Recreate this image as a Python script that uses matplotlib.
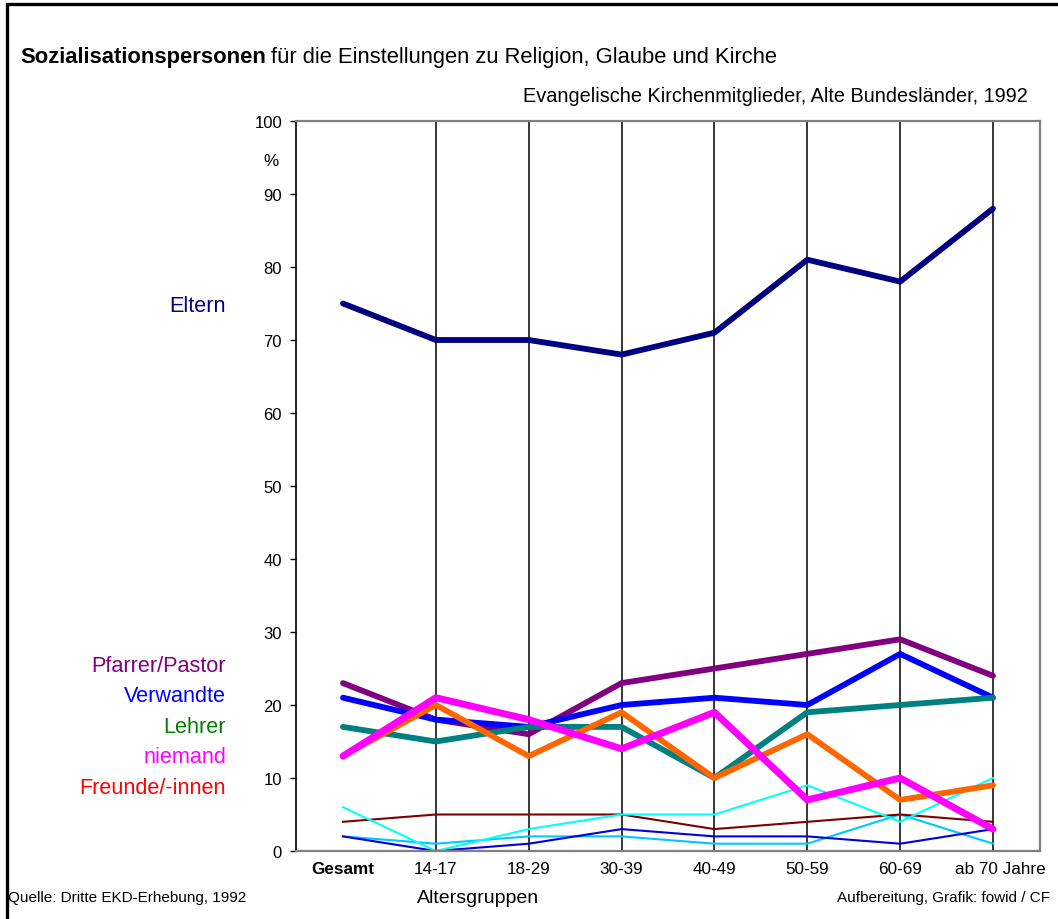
import matplotlib
matplotlib.use("Agg")
import matplotlib.pyplot as plt
from matplotlib.patches import Rectangle

categories = ["Gesamt", "14-17", "18-29", "30-39", "40-49", "50-59", "60-69", "ab 70 Jahre"]

eltern = [75, 70, 70, 68, 71, 81, 78, 88]
pfarrer = [23, 18, 16, 23, 25, 27, 29, 24]
verwandte = [21, 18, 17, 20, 21, 20, 27, 21]
lehrer = [17, 15, 17, 17, 10, 19, 20, 21]
freunde = [13, 20, 13, 19, 10, 16, 7, 9]
niemand = [13, 21, 18, 14, 19, 7, 10, 3]
thin_cyan = [6, 0, 3, 5, 5, 9, 4, 10]
thin_maroon = [4, 5, 5, 5, 3, 4, 5, 4]
thin_sky = [2, 1, 2, 2, 1, 1, 5, 1]
thin_blue = [2, 0, 1, 3, 2, 2, 1, 3]

label_names = ["Pfarrer/Pastor", "Verwandte", "Lehrer", "niemand", "Freunde/-innen"]
label_colors = ["#800080", "#0000FF", "#008000", "#FF00FF", "#FF0000"]

plt.rcParams['font.family'] = ['Liberation Sans', 'DejaVu Sans']

W, H = 1058, 920
fig = plt.figure(figsize=(W / 100, H / 100), dpi=100)

def fx(px):
    return px / W

def fy(py):
    return 1 - py / H

# outer frame
fig.patches.append(Rectangle((fx(7), fy(1000)), fx(1100), fy(5) - fy(1000),
                             transform=fig.transFigure, fill=False,
                             edgecolor="black", linewidth=2.4, zorder=0))

ax = fig.add_axes([fx(296), fy(852), fx(1040) - fx(296), fy(122) - fy(852)])
x = list(range(len(categories)))

for xi in x[1:]:
    ax.axvline(xi, color="black", linewidth=1.1, zorder=1)

lw_thin = 1.5
ax.plot(x, thin_sky, color="#00C8FF", linewidth=lw_thin, zorder=2)
ax.plot(x, thin_blue, color="#0000E0", linewidth=lw_thin, zorder=2)
ax.plot(x, thin_maroon, color="#800000", linewidth=lw_thin, zorder=2)
ax.plot(x, thin_cyan, color="#00FFFF", linewidth=lw_thin, zorder=2)

lw = 4.2
ax.plot(x, eltern, color="#000080", linewidth=lw, zorder=3, solid_capstyle="round")
ax.plot(x, pfarrer, color="#800080", linewidth=lw, zorder=3, solid_capstyle="round")
ax.plot(x, verwandte, color="#0000FF", linewidth=lw, zorder=3, solid_capstyle="round")
ax.plot(x, lehrer, color="#008080", linewidth=lw, zorder=3, solid_capstyle="round")
ax.plot(x, freunde, color="#FF6600", linewidth=lw, zorder=3, solid_capstyle="round")
ax.plot(x, niemand, color="#FF00FF", linewidth=5.0, zorder=4, solid_capstyle="round")

ax.set_xlim(-0.506, 7.506)
ax.set_ylim(0, 100)
ax.set_yticks(range(0, 101, 10))
ax.tick_params(axis="y", labelsize=12, length=4.5, width=1, direction="out", pad=5.5)
ax.set_xticks(x)
ax.set_xticklabels([])
ax.tick_params(axis="x", length=0)

for s in ["top", "right", "bottom"]:
    ax.spines[s].set_color("#808080")
    ax.spines[s].set_linewidth(1.6)
ax.spines["left"].set_color("black")
ax.spines["left"].set_linewidth(1.2)

# x labels
for i, c in enumerate(categories):
    weight = "bold" if i == 0 else "normal"
    tx = ax.text(i, -1.4, c, ha="center", va="top", fontsize=12.3,
                 fontweight=weight, transform=ax.transData)
    if i == len(categories) - 1:
        tx.set_x(i + 0.08)

fig.text(fx(271), fy(161), "%", ha="center", va="center", fontsize=12.3)

# title
t1 = fig.text(fx(20), fy(57), "Sozialisationspersonen", ha="left", va="center",
              fontsize=15.8, fontweight="bold")
fig.canvas.draw()
bb = t1.get_window_extent()
fig.text(bb.x1 / W + fx(5), fy(57), "für die Einstellungen zu Religion, Glaube und Kirche",
         ha="left", va="center", fontsize=15.8)
fig.text(fx(1028), fy(96), "Evangelische Kirchenmitglieder, Alte Bundesländer, 1992",
         ha="right", va="center", fontsize=14.3)

# series labels
fig.text(fx(226), fy(307), "Eltern", ha="right", va="center", fontsize=15.6, color="#000080")
ys = [667, 697, 728, 758, 789]
for name, col, yy in zip(label_names, label_colors, ys):
    fig.text(fx(226), fy(yy), name, ha="right", va="center", fontsize=15.6, color=col)

# footer
fig.text(fx(8), fy(898), "Quelle: Dritte EKD-Erhebung, 1992", ha="left", va="center",
         fontsize=11)
fig.text(fx(478), fy(899), "Altersgruppen", ha="center", va="center", fontsize=14)
fig.text(fx(1050), fy(898), "Aufbereitung, Grafik: fowid / CF", ha="right", va="center",
         fontsize=11)

fig.savefig("out.png", dpi=100)
